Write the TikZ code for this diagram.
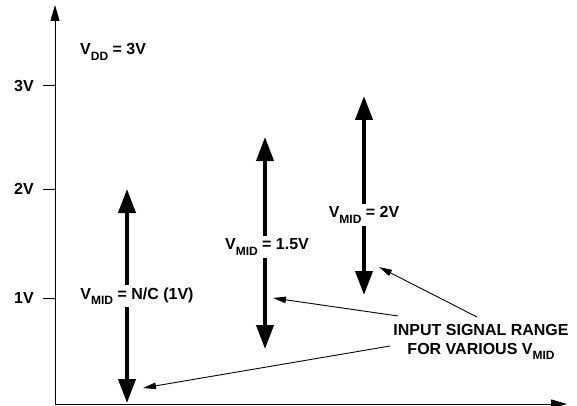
\documentclass[tikz,border=0pt]{standalone}
\usepackage{fontspec}
\setmainfont{Liberation Sans}[BoldFont={Liberation Sans Bold}]
\newfontfamily\boldface{Liberation Sans Bold}
\usetikzlibrary{arrows.meta}
\newcommand{\lowsub}[1]{\raisebox{-0.35em}{\fontsize{12}{12}\selectfont #1}}
\begin{document}
\begin{tikzpicture}[x=1pt,y=-1pt,
  lbl/.style={font=\boldface\fontsize{16}{18}\selectfont, inner sep=0pt},
  midlbl/.style={lbl, fill=white, inner sep=2.5pt},
  axis/.style={line width=1pt, -{Triangle[length=16pt,width=9pt]}},
  tick/.style={line width=1pt},
  bigarrow/.style={line width=4pt, {Triangle[length=24pt,width=17pt]}-{Triangle[length=24pt,width=17pt]}},
  leader/.style={line width=0.9pt, -{Triangle[length=13pt,width=6.5pt]}}]
\useasboundingbox (0,0) rectangle (577,406);
% axes
\coordinate (origin) at (55,404);
\coordinate (ytop) at (55,5);
\coordinate (xend) at (567,404);
\draw[axis] (origin) -- (ytop);
\draw[axis] (origin) -- (xend);
% ticks
\coordinate (t3a) at (43,86);  \coordinate (t3b) at (55,86);
\coordinate (t2a) at (43,189); \coordinate (t2b) at (55,189);
\coordinate (t1a) at (43,298); \coordinate (t1b) at (55,298);
\draw[tick] (t3a) -- (t3b);
\draw[tick] (t2a) -- (t2b);
\draw[tick] (t1a) -- (t1b);
\node[lbl, anchor=east] (l3) at (34,86) {3V};
\node[lbl, anchor=east] (l2) at (34,189) {2V};
\node[lbl, anchor=east] (l1) at (34,298) {1V};
\node[lbl, anchor=west] (vdd) at (80,52) {V\lowsub{DD} = 3V};
% range arrows
\coordinate (a1t) at (127,189); \coordinate (a1b) at (127,403);
\coordinate (a2t) at (265,137); \coordinate (a2b) at (265,349);
\coordinate (a3t) at (364,96);  \coordinate (a3b) at (364,295);
\draw[bigarrow] (a1t) -- (a1b);
\draw[bigarrow] (a2t) -- (a2b);
\draw[bigarrow] (a3t) -- (a3b);
\node[midlbl] (m1) at (137,296) {V\lowsub{MID} = N/C (1V)};
\node[midlbl] (m2) at (267,247) {V\lowsub{MID} = 1.5V};
\node[midlbl] (m3) at (364,215) {V\lowsub{MID} = 2V};
% caption
\node[lbl, align=center] (cap) at (481,342) {INPUT SIGNAL RANGE\\[1pt]FOR VARIOUS V\lowsub{MID}};
\coordinate (p1) at (477,317); \coordinate (q1) at (379,267);
\coordinate (p2) at (398,316); \coordinate (q2) at (273,298);
\coordinate (p3) at (390,346); \coordinate (q3) at (143,388);
\draw[leader] (p1) -- (q1);
\draw[leader] (p2) -- (q2);
\draw[leader] (p3) -- (q3);
\end{tikzpicture}
\end{document}
